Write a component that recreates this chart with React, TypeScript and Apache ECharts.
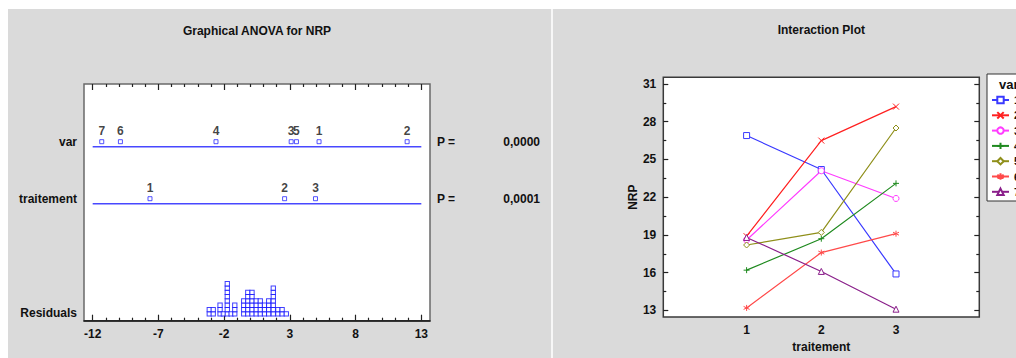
import React, { useEffect, useRef } from "react";
import * as echarts from "echarts";

// ---------------- data ----------------
const varLevels = ["1", "2", "3", "4", "5", "6", "7"];
const treatmentLevels = [1, 2, 3];
const nrpVar1 = [26.9, 24.2, 15.9];
const nrpVar2 = [18.9, 26.5, 29.2];
const nrpVar3 = [18.6, 24.1, 21.9];
const nrpVar4 = [16.2, 18.7, 23.1];
const nrpVar5 = [18.2, 19.2, 27.5];
const nrpVar6 = [13.2, 17.6, 19.1];
const nrpVar7 = [18.8, 16.1, 13.1];
const nrpByVar = [nrpVar1, nrpVar2, nrpVar3, nrpVar4, nrpVar5, nrpVar6, nrpVar7];

// scaled effects (Graphical ANOVA)
const varEffects = [5.22, 11.92, 3.1, -2.62, 3.5, -9.89, -11.31];
const treatmentNames = ["1", "2", "3"];
const treatmentEffects = [-7.64, 2.6, 4.95];
// residual dot-plot columns: position and number of stacked squares
const residualBins = [-3.13, -2.83, -2.31, -2.06, -1.76, -1.47, -1.19, -0.51, -0.2, 0.12, 0.44, 0.75, 1.07, 1.39, 1.74, 2.09, 2.41, 2.73];
const residualCounts = [2, 2, 3, 1, 8, 1, 3, 4, 6, 6, 4, 4, 3, 4, 7, 2, 2, 1];
const pValues = ["0,0000", "0,0001"];
const anovaRowNames = ["var", "traitement", "Residuals"];
const anovaTicks = [-12, -7, -2, 3, 8, 13];
const nrpTicks = [13, 16, 19, 22, 25, 28, 31];

// ---------------- layout / style ----------------
const FONT = "'Liberation Sans', Arial, sans-serif";
const TXT = { fontFamily: FONT, fontWeight: "bold" as const, fontSize: 12, color: "#111" };
const TICK = { color: "#222", width: 1.2 };
const L = { left: 84, top: 84, width: 346, height: 236.7 };
const R = { left: 663.3, top: 77.3, width: 316, height: 242.7 };
const rowLineY = [174, 117]; // px above the bottom of the left plot
const markLift = 5;
const residLabelY = 8;
const SQ = 4.3;
const residBase = 4.7;
const varColors = ["#3a3aff", "#ff2020", "#ff3cff", "#1f8a1f", "#8f8f1a", "#ff4a4a", "#8a1f8a"];
const varSymbols = [
  "rect",
  "path://M0,0L10,10M10,0L0,10",
  "circle",
  "path://M5,0L5,10M0,5L10,5",
  "diamond",
  "path://M5,0L5,10M0.7,2.5L9.3,7.5M0.7,7.5L9.3,2.5",
  "triangle",
];
const openSymbol = [true, false, true, false, true, false, true];

function buildOption() {
  const aMin = -12.66;
  const aMax = 13.66;
  const anovaMinor: number[] = [];
  for (let v = anovaTicks[0]; v <= anovaTicks[anovaTicks.length - 1]; v++) {
    if (!anovaTicks.includes(v)) anovaMinor.push(v);
  }
  const nrpMinor = nrpTicks.slice(0, -1).map((v) => v + 1.5);
  const yMin = 12.47;
  const yMax = 31.53;

  const tickAxis = (gridIndex: number, position: string, min: number, max: number, values: number[], length: number) => ({
    type: "value",
    gridIndex,
    position,
    min,
    max,
    axisLine: { show: false, onZero: false },
    axisTick: { show: true, inside: true, length, customValues: values, lineStyle: TICK },
    axisLabel: { show: false },
    splitLine: { show: false },
  });

  const rowLabelValues = [rowLineY[0] + markLift, rowLineY[1] + markLift, residLabelY];

  const xAxis: any[] = [
    {
      ...tickAxis(0, "bottom", aMin, aMax, anovaTicks, 6),
      axisLine: { show: true, onZero: false, lineStyle: { color: "#111", width: 1.5 } },
      axisLabel: { show: true, customValues: anovaTicks, margin: 7, ...TXT },
    },
    tickAxis(0, "bottom", aMin, aMax, anovaMinor, 3),
    tickAxis(0, "top", aMin, aMax, anovaTicks, 6),
    tickAxis(0, "top", aMin, aMax, anovaMinor, 3),
    {
      type: "value",
      gridIndex: 1,
      position: "bottom",
      min: -0.115,
      max: 4.115,
      axisLine: { show: false, onZero: false },
      axisTick: { show: false },
      axisLabel: { show: true, customValues: treatmentLevels, margin: 7, ...TXT },
      splitLine: { show: false },
      name: "traitement",
      nameLocation: "middle",
      nameGap: 23,
      nameTextStyle: { ...TXT },
    },
  ];

  const yAxis: any[] = [
    {
      type: "value",
      gridIndex: 0,
      position: "left",
      min: 0,
      max: L.height,
      axisLine: { show: false, onZero: false },
      axisTick: { show: false },
      splitLine: { show: false },
      axisLabel: {
        show: true,
        customValues: rowLabelValues,
        margin: 7,
        ...TXT,
        formatter: (v: number) => {
          const i = rowLabelValues.findIndex((r) => Math.abs(r - v) < 0.01);
          return i >= 0 ? anovaRowNames[i] : "";
        },
      },
    },
    {
      ...tickAxis(1, "left", yMin, yMax, nrpTicks, 5),
      axisLabel: { show: true, customValues: nrpTicks, margin: 7, ...TXT },
      name: "NRP",
      nameLocation: "middle",
      nameGap: 21,
      nameTextStyle: { ...TXT },
    },
    tickAxis(1, "left", yMin, yMax, nrpMinor, 3),
    tickAxis(1, "right", yMin, yMax, nrpTicks, 5),
    tickAxis(1, "right", yMin, yMax, nrpMinor, 3),
  ];

  const lineStyleRow = { color: "#4848ff", width: 1.5 };
  const series: any[] = [];

  // row baselines
  [0, 1].forEach((r) => {
    series.push({
      type: "line",
      name: "row" + r,
      xAxisIndex: 0,
      yAxisIndex: 0,
      data: [
        [anovaTicks[0], rowLineY[r]],
        [anovaTicks[anovaTicks.length - 1], rowLineY[r]],
      ],
      symbol: "none",
      silent: true,
      lineStyle: lineStyleRow,
      z: 2,
    });
  });

  const effectSeries = (effects: number[], names: string[], r: number) => ({
    type: "scatter",
    name: "effects" + r,
    xAxisIndex: 0,
    yAxisIndex: 0,
    data: effects.map((v, i) => ({ value: [v, rowLineY[r] + markLift], name: names[i] })),
    symbol: "rect",
    symbolSize: 4,
    itemStyle: { color: "#fff", borderColor: "#2828ff", borderWidth: 1 },
    label: { show: true, position: "top", distance: 2, formatter: "{b}", ...TXT, fontSize: 12 },
    silent: true,
    z: 3,
  });
  series.push(effectSeries(varEffects, varLevels, 0));
  series.push(effectSeries(treatmentEffects, treatmentNames, 1));

  const residData: number[][] = [];
  residualBins.forEach((x, i) => {
    for (let k = 0; k < residualCounts[i]; k++) residData.push([x, residBase + SQ * (k + 0.5)]);
  });
  series.push({
    type: "scatter",
    name: "residuals",
    xAxisIndex: 0,
    yAxisIndex: 0,
    data: residData,
    symbol: "rect",
    symbolSize: SQ,
    itemStyle: { color: "#fff", borderColor: "#1010ff", borderWidth: 1 },
    silent: true,
    z: 3,
  });

  varLevels.forEach((name, i) => {
    series.push({
      type: "line",
      name,
      xAxisIndex: 4,
      yAxisIndex: 1,
      data: treatmentLevels.map((t, j) => [t, nrpByVar[i][j]]),
      symbol: varSymbols[i],
      symbolSize: 6,
      showAllSymbol: true,
      lineStyle: { color: varColors[i], width: 1.2 },
      itemStyle: { color: openSymbol[i] ? "#fff" : varColors[i], borderColor: varColors[i], borderWidth: 1 },
      silent: true,
      z: 3,
    });
  });

  const graphic: any[] = [
    { type: "rect", z: -10, shape: { x: 8, y: 9, width: 543, height: 349 }, style: { fill: "#dadada" } },
    { type: "rect", z: -10, shape: { x: 553, y: 9, width: 463, height: 349 }, style: { fill: "#dadada" } },
    { type: "rect", z: -9, shape: { x: 551.5, y: 9, width: 1, height: 349 }, style: { fill: "#efefef" } },
    {
      type: "text",
      x: L.left + L.width / 2,
      y: 31,
      style: { text: "Graphical ANOVA for NRP", align: "center", verticalAlign: "middle", font: `bold 12px ${FONT}`, fill: "#111" },
    },
    {
      type: "text",
      x: R.left + R.width / 2,
      y: 30,
      style: { text: "Interaction Plot", align: "center", verticalAlign: "middle", font: `bold 12px ${FONT}`, fill: "#111" },
    },
    { type: "rect", z: 1, shape: { x: 987, y: 74, width: 60, height: 127 }, style: { fill: "#fff", stroke: "#333", lineWidth: 1 } },
    {
      type: "text",
      z: 5,
      x: 999,
      y: 84,
      style: { text: "var", align: "left", verticalAlign: "middle", font: `bold 13px ${FONT}`, fill: "#111" },
    },
  ];
  pValues.forEach((p, r) => {
    const y = L.top + L.height - rowLineY[r] - markLift;
    graphic.push({
      type: "text",
      x: 437,
      y,
      style: { text: "P =", align: "left", verticalAlign: "middle", font: `bold 12px ${FONT}`, fill: "#111" },
    });
    graphic.push({
      type: "text",
      x: 540,
      y,
      style: { text: p, align: "right", verticalAlign: "middle", font: `bold 12px ${FONT}`, fill: "#111" },
    });
  });

  return {
    animation: false,
    backgroundColor: "#ffffff",
    grid: [
      { ...L, show: true, backgroundColor: "#fff", borderColor: "#6a6a6a", borderWidth: 1.5, containLabel: false },
      { ...R, show: true, backgroundColor: "#fff", borderColor: "#3a3a3a", borderWidth: 1.5, containLabel: false },
    ],
    xAxis,
    yAxis,
    legend: {
      data: varLevels,
      orient: "vertical",
      left: 991,
      top: 94,
      padding: 0,
      itemWidth: 17,
      itemHeight: 8,
      itemGap: 3.3,
      selectedMode: false,
      textStyle: { fontFamily: FONT, fontSize: 11, fontWeight: "bold", color: "#111", lineHeight: 12 },
      z: 6,
    },
    graphic: { elements: graphic },
    series,
  };
}

export default function App() {
  const ref = useRef<HTMLDivElement>(null);
  useEffect(() => {
    document.body.style.margin = "0";
    const chart = echarts.init(ref.current!, null, { renderer: "svg" });
    chart.setOption(buildOption() as any);
    return () => chart.dispose();
  }, []);
  return <div ref={ref} style={{ width: 1016, height: 358 }} />;
}
